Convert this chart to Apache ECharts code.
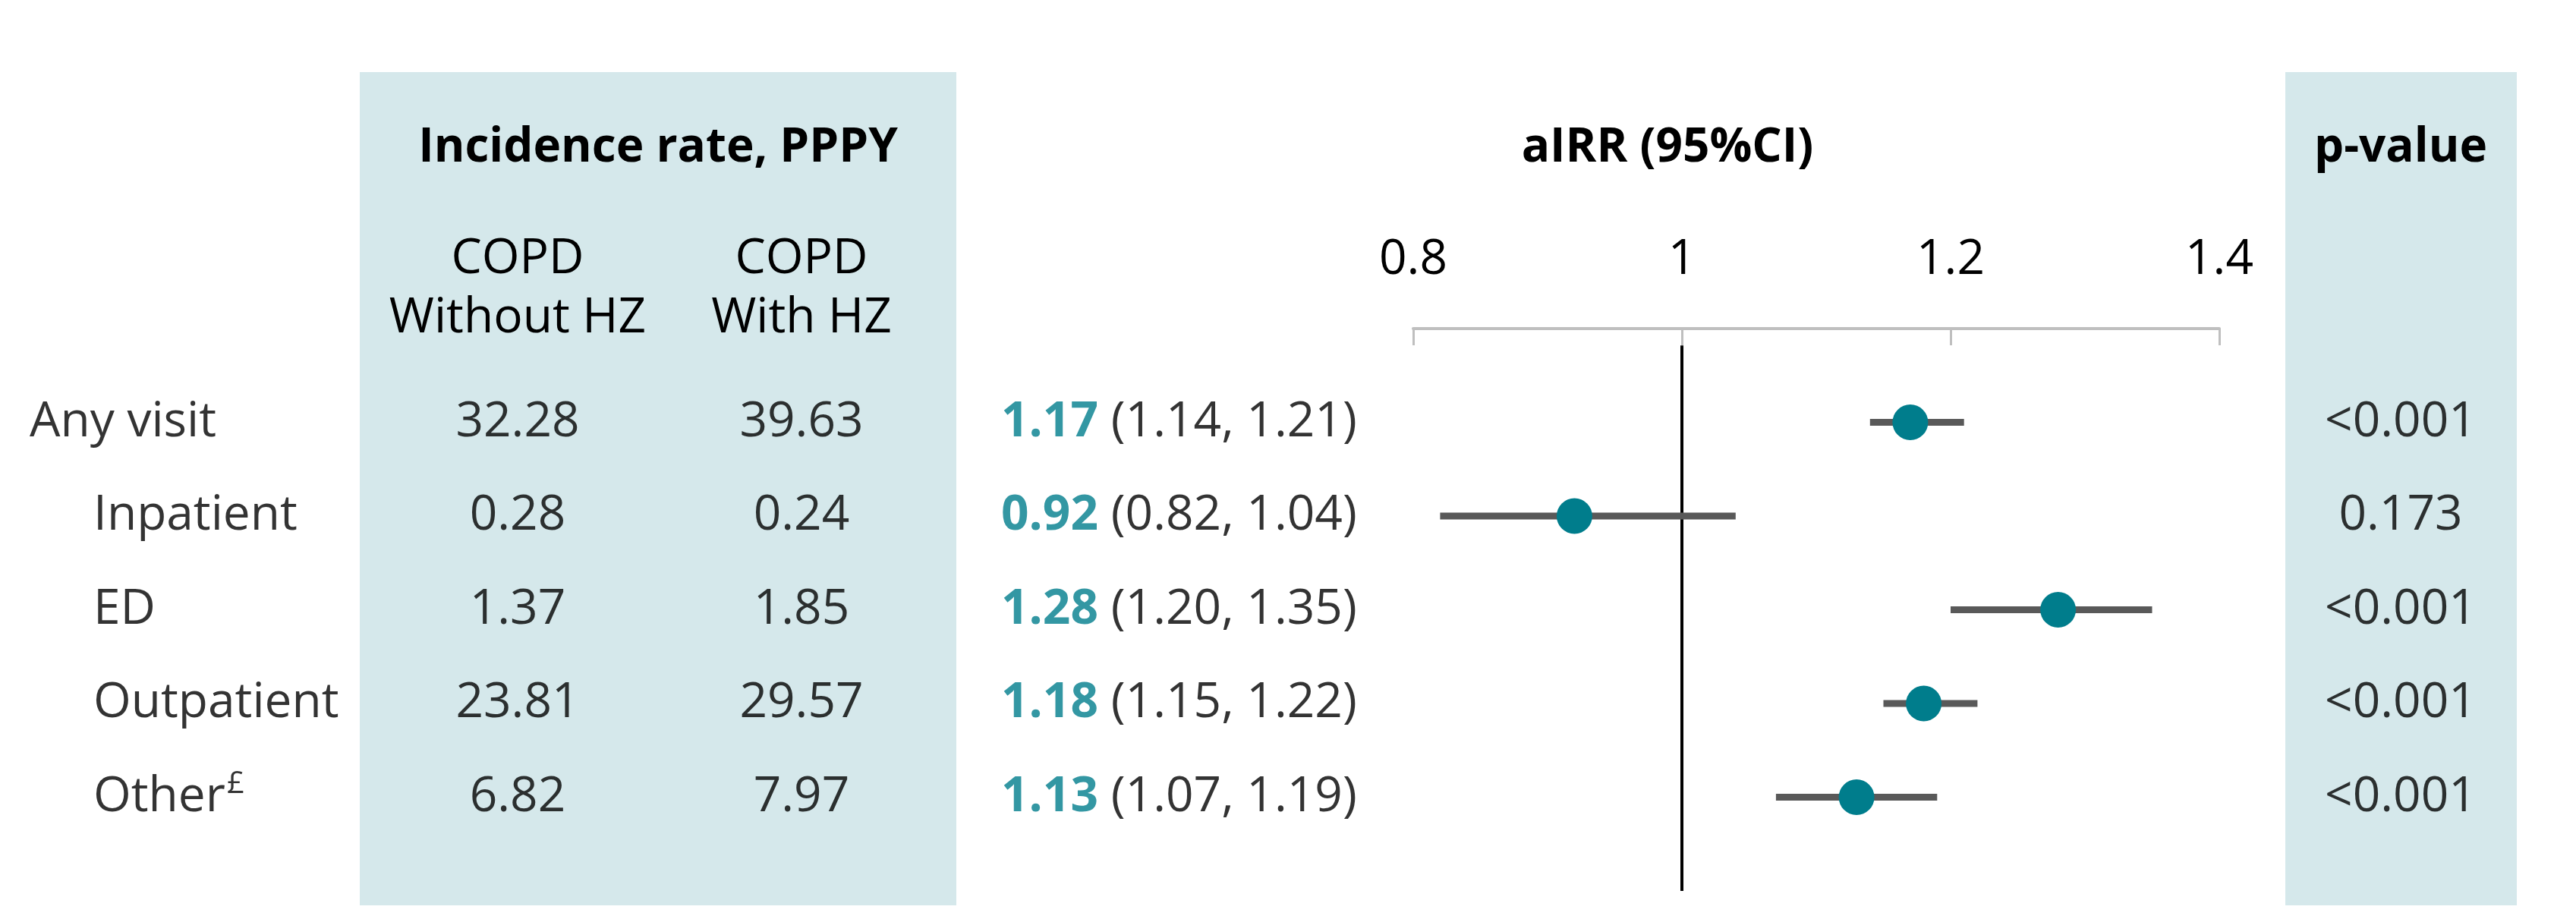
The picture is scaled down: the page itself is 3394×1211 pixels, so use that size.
<!DOCTYPE html>
<html>
<head>
<meta charset="utf-8">
<script src="https://cdn.jsdelivr.net/npm/echarts@6/dist/echarts.min.js"></script>
<style>
  html, body { margin: 0; padding: 0; background: #ffffff; }
  #chart { width: 3394px; height: 1211px; }
</style>
</head>
<body>
<div id="chart"></div>
<script>
// ---- data ----
const rowLabels   = ['Any visit', 'Inpatient', 'ED', 'Outpatient', 'Other£'];
const rateWithout = [32.28, 0.28, 1.37, 23.81, 6.82];
const rateWith    = [39.63, 0.24, 1.85, 29.57, 7.97];
const airr        = [1.17, 0.92, 1.28, 1.18, 1.13];
const ciLow       = [1.14, 0.82, 1.20, 1.15, 1.07];
const ciHigh      = [1.21, 1.04, 1.35, 1.22, 1.19];
const pValues     = ['<0.001', '0.173', '<0.001', '<0.001', '<0.001'];
const xTicks      = [0.8, 1, 1.2, 1.4];
const refValue    = 1;

// ---- layout / style ----
const FONT = '"Open Sans", "Noto Sans", sans-serif';
const FS = 64;
const TEAL = '#007D8C';
const PANEL = '#D5E8EB';
const GRID_TOP = 433, GRID_BOTTOM = 37;
const ROW_MAX = rowLabels.length + 1;
const col = { label: 39, labelIndent: 123, without: 682, with: 1056, airr: 1319, p: 3163 };

const chart = echarts.init(document.getElementById('chart'), null, { renderer: 'canvas' });

function textSeries(name, data, align, formatter, rich) {
  return {
    name, type: 'scatter', xAxisIndex: 1, yAxisIndex: 1,
    symbolSize: 0, silent: true, clip: false,
    data,
    label: {
      show: true, position: 'inside', align: align, verticalAlign: 'middle',
      color: '#000', fontSize: FS, fontFamily: FONT,
      formatter: formatter, rich: rich
    }
  };
}

const rows = rowLabels.map((_, i) => i + 1);

function headerText(x, y, text, bold) {
  return {
    type: 'text', x: x, y: y,
    style: {
      text: text, fontSize: bold ? 62 : FS, fontWeight: bold ? 'bold' : 'normal',
      fontFamily: FONT, lineHeight: 78, fill: '#000', align: 'center', verticalAlign: 'middle'
    }
  };
}

const option = {
  backgroundColor: '#ffffff',
  animation: false,
  grid: [
    { left: 1862, right: 3394 - 2924, top: GRID_TOP, bottom: GRID_BOTTOM },
    { left: 0, right: 0, top: GRID_TOP, bottom: GRID_BOTTOM }
  ],
  xAxis: [
    {
      type: 'value', gridIndex: 0, position: 'top',
      min: xTicks[0], max: xTicks[xTicks.length - 1], interval: 0.2,
      axisLine: { show: true, lineStyle: { color: '#BFBFBF', width: 4 } },
      axisTick: { show: true, inside: true, length: 22, lineStyle: { color: '#BFBFBF', width: 3 } },
      axisLabel: { show: true, margin: 58, color: '#000', fontSize: FS, fontFamily: FONT,
                   formatter: v => String(parseFloat(v.toFixed(2))) },
      splitLine: { show: false }
    },
    { type: 'value', gridIndex: 1, min: 0, max: 3394, show: false }
  ],
  yAxis: [
    { type: 'value', gridIndex: 0, inverse: true, min: 0, max: ROW_MAX, show: false },
    { type: 'value', gridIndex: 1, inverse: true, min: 0, max: ROW_MAX, show: false }
  ],
  graphic: [
    { type: 'rect', z: -10, shape: { x: 474, y: 95, width: 786, height: 1098 }, style: { fill: PANEL } },
    { type: 'rect', z: -10, shape: { x: 3011, y: 95, width: 305, height: 1098 }, style: { fill: PANEL } },
    headerText(867, 195, 'Incidence rate, PPPY', true),
    headerText(2197, 195, 'aIRR (95%CI)', true),
    headerText(3163, 195, 'p-value', true),
    headerText(col.without, 381, 'COPD\nWithout HZ', false),
    headerText(col.with, 381, 'COPD\nWith HZ', false)
  ],
  series: [
    // reference line at aIRR = 1
    {
      type: 'line', xAxisIndex: 0, yAxisIndex: 0, silent: true, symbol: 'none',
      lineStyle: { color: '#000', width: 4 }, z: 1,
      data: [[refValue, 0.18], [refValue, ROW_MAX]]
    },
    // confidence intervals
    {
      type: 'custom', xAxisIndex: 0, yAxisIndex: 0, silent: true, z: 2,
      data: rows.map((r, i) => [ciLow[i], ciHigh[i], r]),
      encode: { x: [0, 1], y: 2 },
      renderItem: function (params, api) {
        const a = api.coord([api.value(0), api.value(2)]);
        const b = api.coord([api.value(1), api.value(2)]);
        return { type: 'line', shape: { x1: a[0], y1: a[1], x2: b[0], y2: b[1] },
                 style: { stroke: '#595959', lineWidth: 9 } };
      }
    },
    // point estimates
    {
      type: 'scatter', xAxisIndex: 0, yAxisIndex: 0, silent: true, z: 3,
      symbol: 'circle', symbolSize: 47, itemStyle: { color: TEAL, opacity: 1 },
      data: rows.map((r, i) => [airr[i], r])
    },
    // table texts
    textSeries('labels', rows.map((r, i) => [i === 0 ? col.label : col.labelIndent, r, rowLabels[i]]), 'left',
      p => {
        const t = p.data[2];
        return t.endsWith('£') ? t.slice(0, -1) + '{sup|£}' : t;
      },
      { sup: { fontSize: 40, fontFamily: FONT, color: '#000', verticalAlign: 'top', padding: [0, 0, 34, 2] } }),
    textSeries('without', rows.map((r, i) => [col.without, r, rateWithout[i]]), 'center',
      p => p.data[2].toFixed(2)),
    textSeries('with', rows.map((r, i) => [col.with, r, rateWith[i]]), 'center',
      p => p.data[2].toFixed(2)),
    textSeries('airr', rows.map((r, i) => [col.airr, r, i]), 'left',
      p => {
        const i = p.data[2];
        return '{b|' + airr[i].toFixed(2) + '} (' + ciLow[i].toFixed(2) + ', ' + ciHigh[i].toFixed(2) + ')';
      },
      { b: { fontSize: FS, fontFamily: FONT, fontWeight: 'bold', color: TEAL } }),
    textSeries('p', rows.map((r, i) => [col.p, r, pValues[i]]), 'center', p => p.data[2])
  ]
};

chart.setOption(option);
</script>
</body>
</html>
